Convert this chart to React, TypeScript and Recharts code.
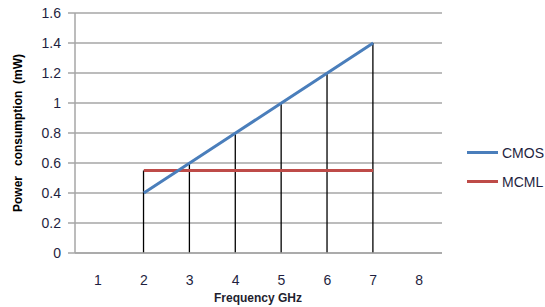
import React from "react";
import {
  ComposedChart,
  CartesianGrid,
  XAxis,
  YAxis,
  Line,
  Bar,
} from "recharts";

const frequencies = ["1", "2", "3", "4", "5", "6", "7", "8"];
const cmos = [null, 0.4, 0.6, 0.8, 1.0, 1.2, 1.4, null];
const mcml = [null, 0.55, 0.55, 0.55, 0.55, 0.55, 0.55, null];
const yTicks = [0, 0.2, 0.4, 0.6, 0.8, 1, 1.2, 1.4, 1.6];

const chartData = frequencies.map((f, i) => {
  const a = cmos[i];
  const b = mcml[i];
  return {
    freq: f,
    cmos: a,
    mcml: b,
    drop: a == null || b == null ? null : Math.max(a, b),
  };
});

const font = "'Liberation Sans', Arial, sans-serif";

const legendItems = [
  { name: "CMOS", color: "#4a7ebb" },
  { name: "MCML", color: "#be4b48" },
];

const App = () => {
  return (
    <div
      style={{
        position: "absolute",
        top: 0,
        left: 0,
        width: 545,
        height: 307,
        overflow: "hidden",
        background: "#fff",
      }}
    >
      <div
        style={{
          position: "absolute",
          left: 18,
          top: 133,
          transform: "translate(-50%, -50%) rotate(-90deg)",
          whiteSpace: "pre",
          fontFamily: font,
          fontWeight: "bold",
          fontSize: 12,
          color: "#000",
        }}
      >
        {"Power   consumption  (mW)"}
      </div>
      <div
        style={{
          position: "absolute",
          left: 258,
          top: 298,
          transform: "translate(-50%, -50%)",
          fontFamily: font,
          fontWeight: "bold",
          fontSize: 12,
          color: "#1f1f2f",
        }}
      >
        Frequency GHz
      </div>
      <div
        style={{
          position: "absolute",
          left: 467,
          top: 138,
          fontFamily: font,
          fontSize: 14,
          color: "#1f1f3f",
        }}
      >
        {legendItems.map((it) => (
          <div
            key={it.name}
            style={{ display: "flex", alignItems: "center", height: 29 }}
          >
            <div
              style={{
                width: 31,
                height: 3,
                background: it.color,
                marginRight: 4,
              }}
            />
            <span>{it.name}</span>
          </div>
        ))}
      </div>
      <ComposedChart
        width={545}
        height={307}
        data={chartData}
        margin={{ top: 13, right: 103, left: 8, bottom: 24 }}
        barCategoryGap={0}
      >
        <CartesianGrid vertical={false} stroke="#a6a6a6" strokeWidth={1.5} />
        <XAxis
          dataKey="freq"
          height={30}
          tickLine={false}
          tickSize={0}
          tickMargin={22}
          axisLine={{ stroke: "#a6a6a6", strokeWidth: 1.5 }}
          tick={{ fontSize: 14, fontFamily: font, fill: "#1f1f3f" }}
        />
        <YAxis
          width={67}
          domain={[0, 1.6]}
          ticks={yTicks}
          interval={0}
          tickSize={7}
          tickMargin={7}
          tickLine={{ stroke: "#a6a6a6", strokeWidth: 1.5 }}
          axisLine={{ stroke: "#a6a6a6", strokeWidth: 1.5 }}
          tick={{ fontSize: 14, fontFamily: font, fill: "#1f1f3f" }}
        />
        <Bar
          dataKey="drop"
          barSize={1.3}
          fill="#000"
          isAnimationActive={false}
        />
        <Line
          dataKey="mcml"
          stroke="#be4b48"
          strokeWidth={3}
          dot={false}
          isAnimationActive={false}
        />
        <Line
          dataKey="cmos"
          stroke="#4a7ebb"
          strokeWidth={3}
          dot={false}
          isAnimationActive={false}
        />
      </ComposedChart>
    </div>
  );
};

export default App;
